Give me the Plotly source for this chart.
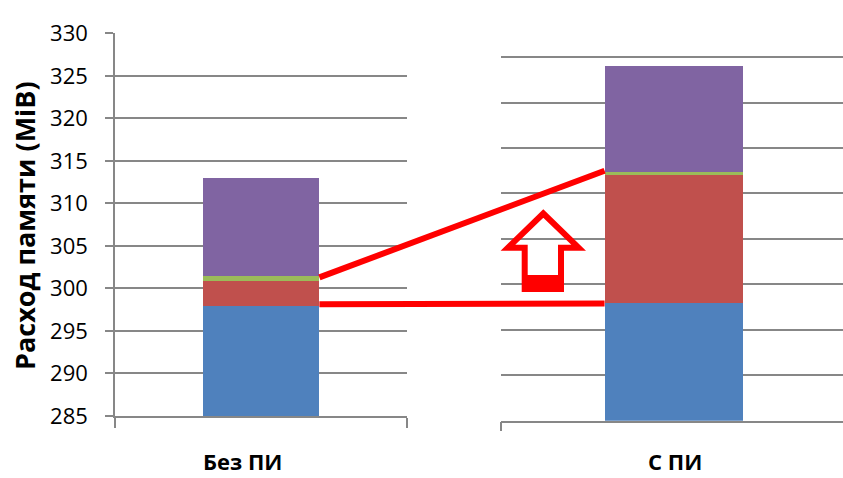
import plotly.graph_objects as go

W, H = 843, 478

categories = ["Без ПИ", "С ПИ"]
series_names = ["Базовый", "Индекс", "Прочее", "Данные"]
series_colors = ["#4F81BD", "#C0504D", "#9BBB59", "#8064A2"]
# stacked values per category (MiB)
blue_vals = [297.95, 297.95]
red_vals = [2.91, 14.08]
green_vals = [0.59, 0.33]
purple_vals = [11.48, 11.66]

y_ticks = [285, 290, 295, 300, 305, 310, 315, 320, 325, 330]
y_range = [285, 330]

# connector line levels (left panel value, right panel value)
conn_diag = [301.3, 312.5]
conn_flat = [298.15, 297.9]

# axis domains (paper fractions)
xdom1 = [115 / W, 407 / W]
ydom1 = [1 - 416 / H, 1 - 33.3 / H]
xdom2 = [500.7 / W, 1.0]
ydom2 = [1 - 420.7 / H, 1 - 11.7 / H]
xr1 = [-0.5, 0.5]
xr2 = [-0.5, 0.4885]

grid_c = "#878787"
fig = go.Figure()

vals = [blue_vals, red_vals, green_vals, purple_vals]
for i, (name, col) in enumerate(zip(series_names, series_colors)):
    fig.add_trace(go.Bar(x=[categories[0]], y=[vals[i][0]], name=name,
                         marker=dict(color=col, line=dict(width=0)),
                         xaxis="x", yaxis="y", showlegend=False, hoverinfo="skip"))
    fig.add_trace(go.Bar(x=[categories[1]], y=[vals[i][1]], name=name,
                         marker=dict(color=col, line=dict(width=0)),
                         xaxis="x2", yaxis="y2", showlegend=False, hoverinfo="skip"))


def mp(dom, rng, v):
    return dom[0] + (v - rng[0]) / (rng[1] - rng[0]) * (dom[1] - dom[0])


bar_half = 0.2
lx = mp(xdom1, xr1, bar_half)
rx = mp(xdom2, xr2, -bar_half)

shapes = []
for lv, rv in (conn_diag, conn_flat):
    shapes.append(dict(type="line", xref="paper", yref="paper",
                       x0=lx, y0=mp(ydom1, y_range, lv),
                       x1=rx, y1=mp(ydom2, y_range, rv),
                       line=dict(color="#FF0000", width=6)))

# hollow up-arrow (decoration), pixel geometry
arrow_pts = [(543.3, 213.5), (578.6, 247.7), (561, 247.7), (561, 289),
             (524.7, 289), (524.7, 247.7), (508, 247.7)]
path = "M " + " L ".join(f"{x / W},{1 - y / H}" for x, y in arrow_pts) + " Z"
shapes.append(dict(type="path", xref="paper", yref="paper", path=path,
                   line=dict(color="#FF0000", width=6), fillcolor="rgba(0,0,0,0)"))
shapes.append(dict(type="rect", xref="paper", yref="paper",
                   x0=524.7 / W, x1=561 / W, y0=1 - 289 / H, y1=1 - 275 / H,
                   line=dict(width=0), fillcolor="#FF0000"))

label_font = dict(family="Open Sans", size=22, color="#000")
annotations = [
    dict(text="<b>" + categories[0] + "</b>", x=242.5 / W, y=0.0, xref="paper", yref="paper",
         showarrow=False, xanchor="center", yanchor="bottom", font=label_font),
    dict(text="<b>" + categories[1] + "</b>", x=675 / W, y=0.0, xref="paper", yref="paper",
         showarrow=False, xanchor="center", yanchor="bottom", font=label_font),
    dict(text="<b>Расход памяти (MiB)</b>", x=24 / W, y=1 - 226 / H, xref="paper", yref="paper",
         showarrow=False, xanchor="center", yanchor="middle", textangle=-90,
         font=dict(family="Open Sans", size=27, color="#000")),
]

fig.update_layout(
    width=W, height=H, margin=dict(l=0, r=0, t=0, b=0, autoexpand=False),
    paper_bgcolor="white", plot_bgcolor="white",
    barmode="stack", bargap=0.6,
    shapes=shapes, annotations=annotations,
    xaxis=dict(domain=xdom1, type="category", range=xr1, anchor="y", automargin=False,
               tickson="boundaries", ticks="outside", ticklen=10, tickwidth=1.5,
               tickcolor=grid_c, showticklabels=False, showline=True,
               linecolor=grid_c, linewidth=1.5, showgrid=False),
    yaxis=dict(domain=ydom1, range=[y_range[0] - 0.01, y_range[1] + 0.01], anchor="x",
               automargin=False,
               tickvals=y_ticks, ticktext=[str(t) for t in y_ticks],
               ticks="outside", ticklen=8, tickwidth=1.5, tickcolor=grid_c,
               showline=True, linecolor=grid_c, linewidth=1.5,
               showgrid=True, gridcolor=grid_c, gridwidth=1.6, zeroline=False,
               tickfont=dict(family="Open Sans", size=22, color="#000"),
               ticklabelstandoff=13),
    xaxis2=dict(domain=xdom2, type="category", range=xr2, anchor="y2", automargin=False,
                tickson="boundaries", ticks="outside", ticklen=9, tickwidth=1.5,
                tickcolor=grid_c, showticklabels=False, showline=True,
                linecolor=grid_c, linewidth=1.5, showgrid=False),
    yaxis2=dict(domain=ydom2, range=[y_range[0] - 0.01, y_range[1] + 0.01], anchor="x2",
                automargin=False,
                tickvals=y_ticks, showticklabels=False, ticks="",
                showline=False, showgrid=True, gridcolor=grid_c, gridwidth=1.6,
                zeroline=False),
)

fig.write_html("out.html")
